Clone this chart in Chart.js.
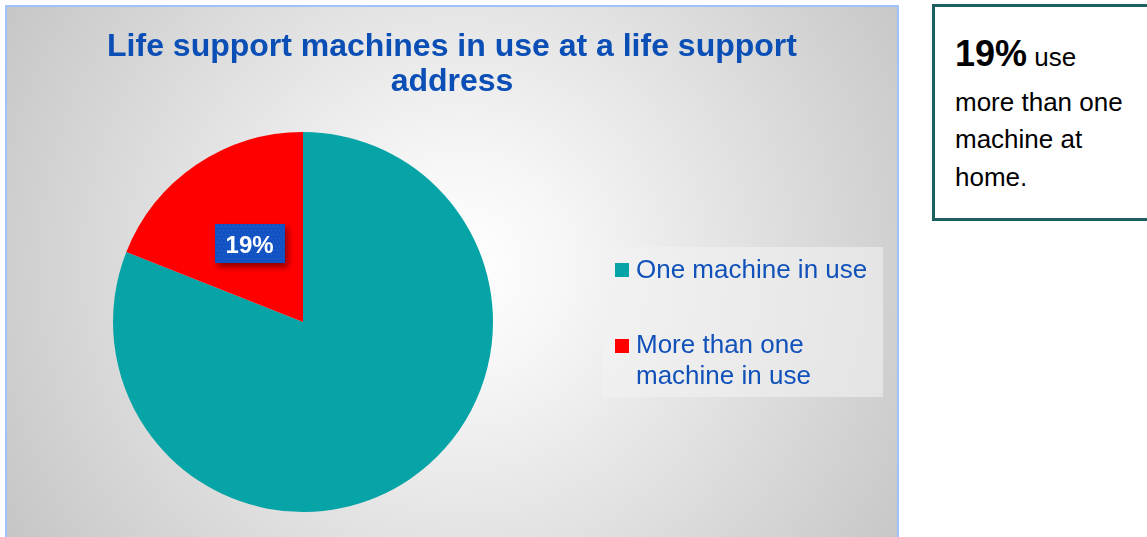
<!DOCTYPE html>
<html>
<head>
<meta charset="utf-8">
<script src="https://cdn.jsdelivr.net/npm/chart.js@4.4.0/dist/chart.umd.min.js"></script>
<style>
  html, body { margin:0; padding:0; background:#ffffff; width:1147px; height:537px; overflow:hidden;
    font-family:"Liberation Sans", Arial, sans-serif; }
  #panel { position:absolute; left:5px; top:5px; width:890px; height:540px;
    border:2px solid #9DC3FF; border-bottom:none;
    background:radial-gradient(circle farthest-corner at 51% 48%, #ffffff 0%, #f6f6f6 20%, #c5c5c5 100%); }
  #chart { position:absolute; left:0; top:0; }
  #title { position:absolute; left:75px; width:740px; top:20.6px; text-align:center;
    color:#0A4EB6; font-weight:bold; font-size:32px; line-height:35px; }
  #legend { position:absolute; left:595px; top:240px; width:281px; height:150px;
    background:rgba(242,242,242,0.6); }
  .lg-sw { position:absolute; left:13px; width:14px; height:14px; }
  .lg-tx { position:absolute; left:34px; width:240px; font-size:26px; line-height:31.2px; color:#1151BA; }
  #note { position:absolute; left:932px; top:4px; width:240px; height:217px; box-sizing:border-box;
    border:3px solid #1F5E5E; background:#ffffff; }
  .nl { position:absolute; left:955px; color:#000; white-space:nowrap; }
</style>
</head>
<body>
<div id="panel">
  <canvas id="chart" width="890" height="530"></canvas>
  <div id="title"></div>
  <div id="legend"></div>
</div>
<div id="note"></div>
<div class="nl" style="top:31px;font-size:36px;font-weight:bold;line-height:45px;">19%<span style="font-size:26px;font-weight:normal;line-height:1;"> use</span></div>
<div class="nl" style="top:83.9px;font-size:26px;line-height:37.5px;">more than one</div>
<div class="nl" style="top:120.5px;font-size:26px;line-height:37.5px;">machine at</div>
<div class="nl" style="top:159px;font-size:26px;line-height:37.5px;">home.</div>

<script>
// ---- data ----
const chartTitle = "Life support machines in use at a life support address";
const categories = ["One machine in use", "More than one machine in use"];
const shares = [81, 19];
const sliceColors = ["#06A4A6", "#FF0000"];
const labelShown = [false, true];

// ---- title & legend (built from the data) ----
document.getElementById('title').textContent = chartTitle;
const legendEl = document.getElementById('legend');
const swatchTops = [16, 92];
const textTops = [7.4, 81.7];
categories.forEach((name, i) => {
  const sw = document.createElement('div');
  sw.className = 'lg-sw';
  sw.style.top = swatchTops[i] + 'px';
  sw.style.background = sliceColors[i];
  const tx = document.createElement('div');
  tx.className = 'lg-tx';
  tx.style.top = textTops[i] + 'px';
  tx.textContent = name;
  legendEl.appendChild(sw);
  legendEl.appendChild(tx);
});

// ---- slice label plugin ----
const sliceLabelPlugin = {
  id: 'sliceLabel',
  afterDatasetsDraw(chart) {
    const ctx = chart.ctx;
    const meta = chart.getDatasetMeta(0);
    const ds = chart.data.datasets[0].data;
    const total = ds.reduce((a, b) => a + b, 0);
    meta.data.forEach((arc, i) => {
      if (!labelShown[i]) return;
      const txt = Math.round(ds[i] / total * 100) + '%';
      const p = arc.tooltipPosition();
      const w = 70, h = 39;
      const x = Math.round(p.x - w / 2), y = Math.round(p.y - h / 2);
      ctx.save();
      ctx.shadowColor = 'rgba(0,0,0,0.45)';
      ctx.shadowBlur = 6;
      ctx.shadowOffsetX = 3;
      ctx.shadowOffsetY = 4;
      ctx.fillStyle = '#1252C2';
      ctx.fillRect(x, y, w, h);
      ctx.shadowColor = 'transparent';
      ctx.fillStyle = 'rgba(70,130,230,0.45)';
      for (let yy = y + 2, r = 0; yy < y + h - 1; yy += 4, r++) {
        for (let xx = x + 2 + (r % 2) * 2; xx < x + w - 1; xx += 4) ctx.fillRect(xx, yy, 1, 1);
      }
      ctx.fillStyle = '#ffffff';
      ctx.font = 'bold 24px "Liberation Sans", Arial, sans-serif';
      ctx.textAlign = 'center';
      ctx.textBaseline = 'alphabetic';
      ctx.fillText(txt, p.x, p.y + 9.5);
      ctx.restore();
    });
  }
};

new Chart(document.getElementById('chart'), {
  type: 'pie',
  data: {
    labels: categories,
    datasets: [{
      data: shares,
      backgroundColor: sliceColors,
      borderWidth: 0,
      hoverBorderWidth: 0,
      offset: 0,
      hoverOffset: 0
    }]
  },
  options: {
    responsive: false,
    animation: false,
    devicePixelRatio: 1,
    layout: { padding: { left: 106, right: 404, top: 125, bottom: 25 } },
    plugins: {
      legend: { display: false },
      tooltip: { enabled: false },
      title: { display: false }
    }
  },
  plugins: [sliceLabelPlugin]
});
</script>
</body>
</html>
